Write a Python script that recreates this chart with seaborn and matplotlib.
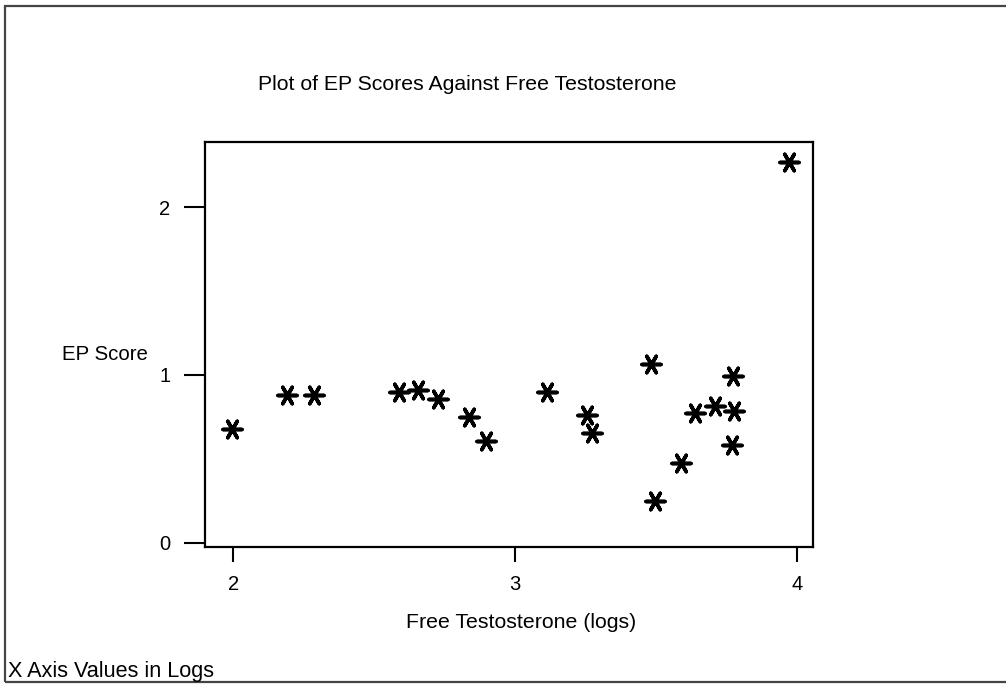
import matplotlib
matplotlib.use("Agg")
import matplotlib.pyplot as plt
import seaborn as sns
import pandas as pd
from matplotlib.patches import Rectangle

# Data
free_testosterone_log = [1.997, 2.19, 2.287, 2.589, 2.657, 2.728, 2.838, 2.897,
                         3.112, 3.254, 3.272, 3.484, 3.498, 3.590, 3.637, 3.710,
                         3.772, 3.777, 3.770, 3.973]
ep_score = [0.677, 0.881, 0.881, 0.897, 0.911, 0.857, 0.748, 0.609,
            0.901, 0.762, 0.653, 1.065, 0.252, 0.474, 0.772, 0.817,
            0.996, 0.788, 0.583, 2.270]
x_ticks = [2, 3, 4]
y_ticks = [0, 1, 2]

df = pd.DataFrame({"x": free_testosterone_log, "y": ep_score})

sns.set_style("white")
plt.rcParams["font.family"] = ["Liberation Sans", "DejaVu Sans"]

fig = plt.figure(figsize=(10.06, 6.85), dpi=100)
ax = fig.add_axes([205/1006, 1-547/685, (813-205)/1006, (547-142)/685])

sns.scatterplot(data=df, x="x", y="y", ax=ax, marker=(6, 2, 90), s=185,
                color="black", linewidth=2.6, edgecolor="black", legend=False)

ax.set_xlim(1.90, 4.057)
ax.set_ylim(-0.024, 2.387)
ax.set_xticks(x_ticks)
ax.set_yticks(y_ticks)
ax.set_xticklabels([str(t) for t in x_ticks], fontsize=14.5)
ax.set_yticklabels([str(t) for t in y_ticks], fontsize=14.5)
ax.tick_params(axis="both", which="major", bottom=True, left=True,
               direction="out", width=1.5, color="black", labelcolor="black")
ax.tick_params(axis="y", length=15, pad=10)
ax.tick_params(axis="x", length=11, pad=9)
for sp in ax.spines.values():
    sp.set_visible(True)
    sp.set_linewidth(1.6)
    sp.set_color("black")

ax.set_xlabel("")
ax.set_ylabel("")

fig.text(467/1006, 1-84/685, "Plot of EP Scores Against Free Testosterone",
         ha="center", va="center", fontsize=15.3, color="black")
fig.text(521/1006, 1-622/685, "Free Testosterone (logs)",
         ha="center", va="center", fontsize=15.3, color="black")
fig.text(62/1006, 1-355/685, "EP Score", ha="left", va="center", fontsize=14.7,
         color="black")
fig.text(8/1006, 1-672/685, "X Axis Values in Logs", ha="left", va="center",
         fontsize=15.6, color="black")

frame = Rectangle((5/1006, 1-682/685), 1.2, (682-6)/685, transform=fig.transFigure,
                  fill=False, edgecolor="#444444", linewidth=1.6, clip_on=False)
fig.patches.append(frame)

fig.savefig("out.png", dpi=100, facecolor="white")
